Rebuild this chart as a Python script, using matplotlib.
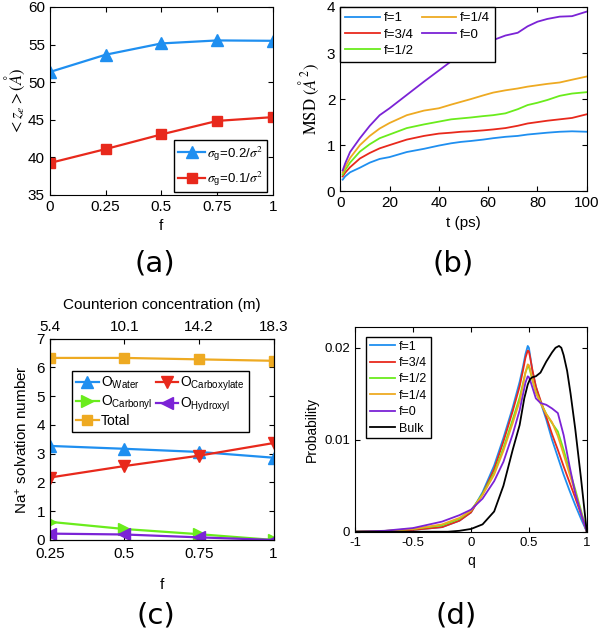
import numpy as np
import matplotlib
matplotlib.use('Agg')
import matplotlib.pyplot as plt

plt.rcParams['font.family'] = ['Liberation Sans', 'DejaVu Sans']
plt.rcParams['mathtext.fontset'] = 'stix'
plt.rcParams['xtick.direction'] = 'in'
plt.rcParams['ytick.direction'] = 'in'
plt.rcParams['xtick.top'] = True
plt.rcParams['ytick.right'] = True

BLUE = '#1f8ff0'
RED = '#e8291c'
GREEN = '#6aec1c'
ORANGE = '#eeaa22'
PURPLE = '#7b23d6'

# (a) end-to-end height vs f
f_a = [0, 0.25, 0.5, 0.75, 1]
z_hi = [51.35, 53.65, 55.15, 55.55, 55.5]
z_lo = [39.25, 41.1, 43.05, 44.85, 45.35]

# (b) MSD curves
t_b = [1, 2, 4, 8, 12, 16, 20, 27, 34, 40, 45, 49, 53, 58, 62, 67, 72, 76, 80, 84, 89, 94, 100]
msd_f0 = [0.45, 0.6, 0.85, 1.15, 1.42, 1.65, 1.80, 2.09, 2.38, 2.62, 2.82, 2.96, 3.07, 3.18, 3.28, 3.38, 3.44, 3.58, 3.68, 3.74, 3.79, 3.80, 3.90]
msd_f14 = [0.40, 0.52, 0.72, 1.00, 1.20, 1.36, 1.48, 1.65, 1.75, 1.80, 1.88, 1.94, 2.00, 2.08, 2.14, 2.19, 2.23, 2.27, 2.30, 2.33, 2.36, 2.42, 2.49]
msd_f12 = [0.36, 0.46, 0.62, 0.86, 1.02, 1.15, 1.23, 1.37, 1.45, 1.51, 1.56, 1.58, 1.60, 1.63, 1.65, 1.69, 1.78, 1.87, 1.92, 1.98, 2.07, 2.12, 2.15]
msd_f34 = [0.32, 0.40, 0.52, 0.71, 0.83, 0.93, 1.00, 1.12, 1.20, 1.25, 1.27, 1.29, 1.30, 1.32, 1.34, 1.37, 1.42, 1.47, 1.50, 1.53, 1.56, 1.59, 1.67]
msd_f1 = [0.25, 0.32, 0.41, 0.51, 0.62, 0.70, 0.74, 0.85, 0.92, 0.99, 1.04, 1.07, 1.09, 1.12, 1.15, 1.18, 1.20, 1.23, 1.25, 1.27, 1.29, 1.30, 1.29]

# (c) Na+ solvation numbers
f_c = [0.25, 0.5, 0.75, 1]
conc_labels = ['5.4', '10.1', '14.2', '18.3']
n_water = [3.27, 3.17, 3.06, 2.86]
n_carboxylate = [2.17, 2.57, 2.93, 3.37]
n_carbonyl = [0.63, 0.38, 0.20, 0.0]
n_hydroxyl = [0.22, 0.19, 0.09, 0.0]
n_total = [6.33, 6.33, 6.28, 6.23]

# (d) q distributions
q_d = [-1, -0.75, -0.5, -0.25, -0.1, 0, 0.1, 0.2, 0.28, 0.36, 0.42, 0.45, 0.47, 0.49, 0.5,
       0.51, 0.53, 0.56, 0.6, 0.65, 0.7, 0.75, 0.8, 0.85, 0.9, 0.95, 1]
p_f1 = [0, 0.00005, 0.0002, 0.0005, 0.0012, 0.0021, 0.0043, 0.0072, 0.0102, 0.0135, 0.0163, 0.0180, 0.0193, 0.0202, 0.0200,
        0.0192, 0.0175, 0.0158, 0.0141, 0.0122, 0.0100, 0.0081, 0.0062, 0.0045, 0.0029, 0.0014, 0]
p_f34 = [0, 0.00005, 0.0002, 0.0005, 0.0012, 0.0021, 0.0041, 0.0068, 0.0098, 0.0131, 0.0158, 0.0176, 0.0189, 0.0197, 0.0196,
         0.0190, 0.0176, 0.0158, 0.0143, 0.0125, 0.0106, 0.0089, 0.0071, 0.0054, 0.0037, 0.0019, 0]
p_f12 = [0, 0.00008, 0.0003, 0.0007, 0.0014, 0.0023, 0.0041, 0.0064, 0.0091, 0.0122, 0.0146, 0.0162, 0.0173, 0.0180, 0.0179,
         0.0175, 0.0165, 0.0152, 0.0141, 0.0128, 0.0118, 0.0109, 0.0089, 0.0067, 0.0046, 0.0023, 0]
p_f14 = [0, 0.00008, 0.0003, 0.0008, 0.0015, 0.0023, 0.0040, 0.0062, 0.0088, 0.0118, 0.0142, 0.0160, 0.0173, 0.0182, 0.0181,
         0.0177, 0.0166, 0.0151, 0.0140, 0.0128, 0.0119, 0.0104, 0.0084, 0.0063, 0.0043, 0.0021, 0]
p_f0 = [0, 0.0001, 0.0004, 0.0011, 0.0018, 0.0024, 0.0036, 0.0055, 0.0076, 0.0106, 0.0132, 0.0150, 0.0162, 0.0169, 0.0168,
        0.0165, 0.0157, 0.0145, 0.0140, 0.0138, 0.0134, 0.0129, 0.0105, 0.0072, 0.0042, 0.0020, 0]
q_bulk = [-1, -0.2, -0.1, 0, 0.1, 0.2, 0.28, 0.36, 0.42, 0.46, 0.49, 0.51, 0.53, 0.56, 0.6, 0.65,
          0.7, 0.73, 0.76, 0.78, 0.8, 0.83, 0.86, 0.9, 0.95, 1]
p_bulk = [0, 0, 0.0001, 0.0003, 0.0008, 0.0022, 0.0050, 0.0089, 0.0116, 0.0145, 0.0160, 0.0166, 0.0168, 0.0169, 0.0173, 0.0185,
          0.0195, 0.0200, 0.0202, 0.0200, 0.0192, 0.0175, 0.0150, 0.0112, 0.0058, 0]

fig = plt.figure(figsize=(6, 6.33), dpi=100)

# ---- (a)
ax = fig.add_axes([0.083, 0.692, 0.372, 0.297])
ax.plot(f_a, z_hi, '-^', color=BLUE, lw=1.6, ms=9, label=r'$\sigma_{\mathregular{g}}$=0.2/$\sigma^2$')
ax.plot(f_a, z_lo, '-s', color=RED, lw=1.6, ms=6.5, label=r'$\sigma_{\mathregular{g}}$=0.1/$\sigma^2$')
ax.set_xlim(0, 1)
ax.set_ylim(35, 60)
ax.set_xticks(f_a)
ax.set_xticklabels(['0', '0.25', '0.5', '0.75', '1'])
ax.set_yticks([35, 40, 45, 50, 55, 60])
ax.set_xlabel('f', fontsize=11)
ax.set_ylabel(r'$<z_e>(\mathit{\AA})$', fontsize=12, labelpad=1)
ax.tick_params(labelsize=11)
leg = ax.legend(loc='lower right', bbox_to_anchor=(0.975, 0.015), fontsize=9.5,
                fancybox=False, edgecolor='black', framealpha=1, borderaxespad=0,
                handlelength=2.0, labelspacing=0.5, handletextpad=0.2, borderpad=0.3)
leg.get_frame().set_linewidth(1.0)
fig.text(0.258, 0.583, '(a)', fontsize=21, ha='center', va='center', family='DejaVu Sans')

# ---- (b)
ax = fig.add_axes([0.567, 0.698, 0.411, 0.291])
ax.plot(t_b, msd_f1, color=BLUE, lw=1.3, label='f=1')
ax.plot(t_b, msd_f34, color=RED, lw=1.3, label='f=3/4')
ax.plot(t_b, msd_f12, color=GREEN, lw=1.3, label='f=1/2')
ax.plot(t_b, msd_f14, color=ORANGE, lw=1.3, label='f=1/4')
ax.plot(t_b, msd_f0, color=PURPLE, lw=1.3, label='f=0')
ax.set_xlim(0, 100)
ax.set_ylim(0, 4)
ax.set_xticks([0, 20, 40, 60, 80, 100])
ax.set_yticks([0, 1, 2, 3, 4])
ax.set_xlabel('t (ps)', fontsize=11)
ax.set_ylabel(r'$\mathrm{MSD}\ (\mathit{\AA}^2)$', fontsize=12)
ax.tick_params(labelsize=11)
leg = ax.legend(loc='upper left', ncol=2, fontsize=9.5, fancybox=False, edgecolor='black',
                framealpha=1, borderaxespad=0, handlelength=2.6, columnspacing=0.6,
                labelspacing=0.3, handletextpad=0.3)
leg.get_frame().set_linewidth(1.0)
fig.text(0.755, 0.583, '(b)', fontsize=21, ha='center', va='center', family='DejaVu Sans')

# ---- (c)
ax = fig.add_axes([0.083, 0.147, 0.373, 0.318])
ax.plot(f_c, n_water, '-^', color=BLUE, lw=1.6, ms=9, label=r'$\mathregular{O_{Water}}$')
ax.plot(f_c, n_carbonyl, '->', color=GREEN, lw=1.6, ms=9, label=r'$\mathregular{O_{Carbonyl}}$')
ax.plot(f_c, n_total, '-s', color=ORANGE, lw=1.6, ms=6.5, label='Total')
ax.plot(f_c, n_carboxylate, '-v', color=RED, lw=1.6, ms=9, label=r'$\mathregular{O_{Carboxylate}}$')
ax.plot(f_c, n_hydroxyl, '-<', color=PURPLE, lw=1.6, ms=9, label=r'$\mathregular{O_{Hydroxyl}}$')
ax.set_xlim(0.25, 1)
ax.set_ylim(0, 7)
ax.set_xticks(f_c)
ax.set_xticklabels(['0.25', '0.5', '0.75', '1'])
ax.set_yticks(range(8))
ax.set_xlabel('f', fontsize=11, labelpad=12)
ax.set_ylabel(r'Na$^\mathregular{+}$ solvation number', fontsize=11)
ax.tick_params(labelsize=11)
ax.tick_params(axis='x', top=False, pad=5)
leg = ax.legend(loc='upper left', bbox_to_anchor=(0.1, 0.84), ncol=2, fontsize=10,
                fancybox=False, edgecolor='black', framealpha=1, borderaxespad=0,
                handlelength=1.6, columnspacing=0.3, labelspacing=0.15, handletextpad=0.15,
                borderpad=0.3)
leg.get_frame().set_linewidth(1.0)
top = ax.twiny()
top.set_xlim(ax.get_xlim())
top.set_xticks(f_c)
top.set_xticklabels(conc_labels)
top.tick_params(labelsize=11, direction='in')
top.set_xlabel('Counterion concentration (m)', fontsize=11, labelpad=8)
fig.text(0.26, 0.028, '(c)', fontsize=21, ha='center', va='center', family='DejaVu Sans')

# ---- (d)
ax = fig.add_axes([0.592, 0.160, 0.386, 0.324])
ax.plot(q_d, p_f1, color=BLUE, lw=1.3, label='f=1')
ax.plot(q_d, p_f34, color=RED, lw=1.3, label='f=3/4')
ax.plot(q_d, p_f12, color=GREEN, lw=1.3, label='f=1/2')
ax.plot(q_d, p_f14, color=ORANGE, lw=1.3, label='f=1/4')
ax.plot(q_d, p_f0, color=PURPLE, lw=1.3, label='f=0')
ax.plot(q_bulk, p_bulk, color='black', lw=1.3, label='Bulk')
ax.set_xlim(-1, 1)
ax.set_ylim(0, 0.0223)
ax.set_xticks([-1, -0.5, 0, 0.5, 1])
ax.set_xticklabels(['-1', '-0.5', '0', '0.5', '1'])
ax.set_yticks([0, 0.01, 0.02])
ax.set_yticklabels(['0', '0.01', '0.02'])
ax.set_xlabel('q', fontsize=10)
ax.set_ylabel('Probability', fontsize=10)
ax.tick_params(labelsize=9.5)
leg = ax.legend(loc='upper left', bbox_to_anchor=(0.047, 0.95), fontsize=9,
                fancybox=False, edgecolor='black', framealpha=1, borderaxespad=0,
                handlelength=2.0, labelspacing=0.35, handletextpad=0.3, borderpad=0.3)
leg.get_frame().set_linewidth(1.0)
fig.text(0.76, 0.028, '(d)', fontsize=21, ha='center', va='center', family='DejaVu Sans')

fig.savefig('out.png', dpi=100)
